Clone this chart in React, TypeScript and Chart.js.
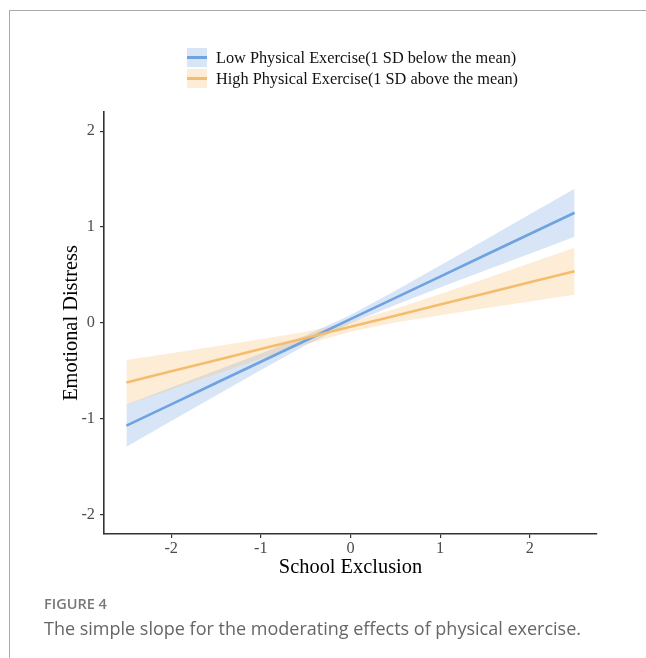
import React, { useEffect, useRef } from 'react';
import { Chart, registerables } from 'chart.js';

Chart.register(...registerables);

// ---- data ----
const schoolExclusion = [-2.5, -2, -1.5, -1, -0.5, 0, 0.5, 1, 1.5, 2, 2.5];

const lowFit = [-1.07, -0.848, -0.626, -0.404, -0.182, 0.04, 0.262, 0.484, 0.706, 0.928, 1.15];
const lowUpper = [-0.85, -0.673, -0.496, -0.317, -0.131, 0.083, 0.336, 0.599, 0.865, 1.133, 1.4];
const lowLower = [-1.29, -1.023, -0.756, -0.491, -0.233, -0.003, 0.188, 0.369, 0.547, 0.723, 0.9];

const highFit = [-0.62, -0.504, -0.388, -0.272, -0.156, -0.04, 0.076, 0.192, 0.308, 0.424, 0.54];
const highUpper = [-0.385, -0.315, -0.243, -0.17, -0.091, 0.01, 0.148, 0.303, 0.462, 0.623, 0.785];
const highLower = [-0.855, -0.693, -0.533, -0.374, -0.221, -0.09, 0.004, 0.081, 0.154, 0.225, 0.295];

const xTicks = [-2, -1, 0, 1, 2];
const yTicks = [-2, -1, 0, 1, 2];

const seriesLabels = [
  'Low Physical Exercise(1 SD below the mean)',
  'High Physical Exercise(1 SD above the mean)',
];

const LOW_LINE = 'rgb(111,162,224)';
const LOW_FILL = 'rgba(111,162,224,0.28)';
const LOW_KEY = 'rgb(215,229,246)';
const HIGH_LINE = 'rgb(245,188,110)';
const HIGH_FILL = 'rgba(248,190,110,0.28)';
const HIGH_KEY = 'rgb(253,237,214)';

const SERIF = '"Liberation Serif", "Times New Roman", serif';
const SANS = '"Open Sans", "Noto Sans", sans-serif';

function pts(ys: number[]) {
  return schoolExclusion.map((x, i) => ({ x, y: ys[i] }));
}

export default function App() {
  const ref = useRef<HTMLCanvasElement>(null);

  useEffect(() => {
    document.body.style.margin = '0';
    const band = (data: number[], fill: any, bg: string) => ({
      data: pts(data),
      borderWidth: 0,
      borderColor: 'rgba(0,0,0,0)',
      backgroundColor: bg,
      pointRadius: 0,
      fill,
      tension: 0,
    });
    const line = (data: number[], color: string) => ({
      data: pts(data),
      borderWidth: 2.6,
      borderColor: color,
      backgroundColor: color,
      pointRadius: 0,
      fill: false,
      tension: 0,
    });
    const chart = new Chart(ref.current as HTMLCanvasElement, {
      type: 'line',
      data: {
        datasets: [
          { label: 'high upper', ...band(highUpper, '+1', HIGH_FILL) },
          { label: 'high lower', ...band(highLower, false, HIGH_FILL) },
          { label: seriesLabels[1], ...line(highFit, HIGH_LINE) },
          { label: 'low upper', ...band(lowUpper, '+1', LOW_FILL) },
          { label: 'low lower', ...band(lowLower, false, LOW_FILL) },
          { label: seriesLabels[0], ...line(lowFit, LOW_LINE) },
        ] as any,
      },
      options: {
        responsive: false,
        animation: false,
        layout: { padding: { left: 0, top: 112, right: 49, bottom: 77.7 } },
        plugins: {
          legend: { display: false },
          tooltip: { enabled: false },
          filler: { drawTime: 'beforeDatasetsDraw' },
        } as any,
        scales: {
          x: {
            type: 'linear',
            min: -2.75,
            max: 2.75,
            afterBuildTicks: (s: any) => {
              s.ticks = xTicks.map((v) => ({ value: v }));
            },
            afterFit: (s: any) => {
              s.height = 46.3;
            },
            grid: { drawOnChartArea: false, drawTicks: true, tickLength: 4, color: '#333', lineWidth: 1.2 },
            border: { color: '#333', width: 1.6 },
            ticks: {
              color: '#4d4d4d',
              font: { family: SERIF, size: 16.3 },
              padding: 1,
              maxRotation: 0,
              callback: (v: any) => String(v),
            },
            title: {
              display: true,
              text: 'School Exclusion',
              color: '#000',
              font: { family: SERIF, size: 20.4 },
              padding: 0,
            },
          },
          y: {
            type: 'linear',
            min: -2.2,
            max: 2.2,
            afterBuildTicks: (s: any) => {
              s.ticks = yTicks.map((v) => ({ value: v }));
            },
            afterFit: (s: any) => {
              s.width = 104;
            },
            grid: { drawOnChartArea: false, drawTicks: true, tickLength: 4, color: '#333', lineWidth: 1.2 },
            border: { color: '#333', width: 1.6 },
            ticks: {
              color: '#4d4d4d',
              font: { family: SERIF, size: 16.3 },
              padding: 5,
              callback: (v: any) => String(v),
            },
            title: {
              display: true,
              text: 'Emotional Distress',
              color: '#000',
              font: { family: SERIF, size: 20.4 },
              padding: { top: 59.8, bottom: 0 },
            },
          },
        },
      } as any,
    });
    return () => chart.destroy();
  }, []);

  const keyStyle = (bg: string, top: number): React.CSSProperties => ({
    position: 'absolute',
    left: 187,
    top,
    width: 20,
    height: 19,
    background: bg,
  });
  const keyLine = (color: string): React.CSSProperties => ({
    position: 'absolute',
    left: 0,
    top: 8.2,
    width: 20,
    height: 2.6,
    background: color,
  });
  const legendText = (top: number): React.CSSProperties => ({
    position: 'absolute',
    left: 216,
    top,
    height: 19,
    lineHeight: '19px',
    fontFamily: SERIF,
    fontSize: 16.3,
    color: '#111',
    whiteSpace: 'nowrap',
  });

  return (
    <div style={{ position: 'fixed', left: 0, top: 0, width: 646, height: 658, background: '#fff', overflow: 'hidden' }}>
      <div style={{ position: 'absolute', left: 9, top: 10, width: 637, height: 1, background: '#aaa' }} />
      <div style={{ position: 'absolute', left: 9, top: 10, width: 1, height: 648, background: '#aaa' }} />
      <canvas ref={ref} width={646} height={658} style={{ position: 'absolute', left: 0, top: 0, display: 'block' }} />
      <div style={keyStyle(LOW_KEY, 48)}>
        <div style={keyLine(LOW_LINE)} />
      </div>
      <div style={legendText(47.5)}>{seriesLabels[0]}</div>
      <div style={keyStyle(HIGH_KEY, 69)}>
        <div style={keyLine(HIGH_LINE)} />
      </div>
      <div style={legendText(68.5)}>{seriesLabels[1]}</div>
      <div
        style={{
          position: 'absolute',
          left: 44,
          top: 595,
          fontFamily: SANS,
          fontWeight: 600,
          fontSize: 14.5,
          lineHeight: '18px',
          color: '#777',
          whiteSpace: 'nowrap',
        }}
      >
        FIGURE 4
      </div>
      <div
        style={{
          position: 'absolute',
          left: 44,
          top: 616,
          fontFamily: SANS,
          fontSize: 18,
          lineHeight: '24px',
          color: '#666',
          whiteSpace: 'nowrap',
        }}
      >
        The simple slope for the moderating effects of physical exercise.
      </div>
    </div>
  );
}
